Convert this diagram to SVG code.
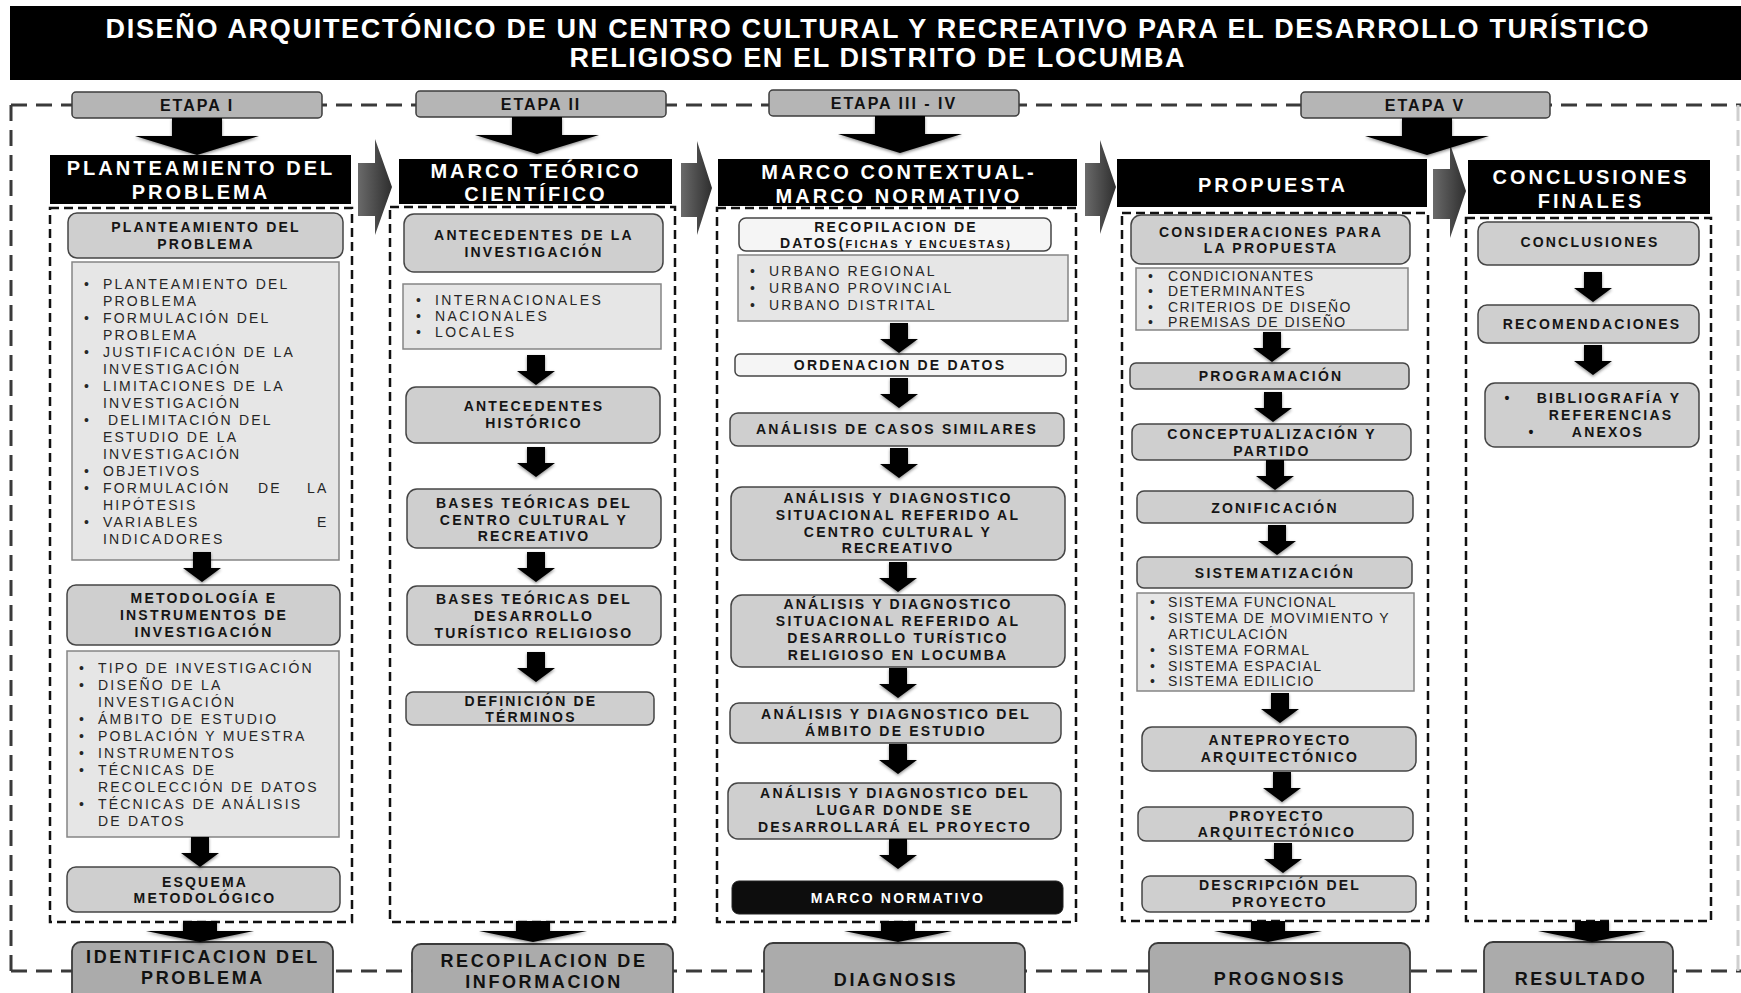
<svg xmlns="http://www.w3.org/2000/svg" xmlns:xlink="http://www.w3.org/1999/xlink" width="1741" height="993" viewBox="0 0 1741 993">
<style>
text{font-family:"Liberation Sans",Arial,sans-serif}
.box{fill:#cfcfcf;stroke:#454545;stroke-width:1.5}
.wbox{fill:#f5f5f5;stroke:#454545;stroke-width:1.5}
.list{fill:#e6e6e6;stroke:#858585;stroke-width:1.5}
.bbox{fill:#ababab;stroke:#3a3a3a;stroke-width:1.8}
.ebox{fill:#b5b5b5;stroke:#3d3d3d;stroke-width:1.5}
.colf{fill:none;stroke:#111;stroke-width:2.5;stroke-dasharray:9 5}
.frame{fill:none;stroke:#3a3a3a;stroke-width:3;stroke-dasharray:16 9}
.t{font-weight:bold;font-size:14px;letter-spacing:2.2px;text-anchor:middle;fill:#151515}
.li{font-size:14px;letter-spacing:2.2px;fill:#262626}
.ht{font-weight:bold;font-size:20px;letter-spacing:3px;text-anchor:middle;fill:#fff}
.bt{font-weight:bold;font-size:18px;letter-spacing:2.6px;text-anchor:middle;fill:#111}
.et{font-weight:bold;font-size:16px;letter-spacing:2px;text-anchor:middle;fill:#111}
.tt{font-weight:bold;font-size:27px;text-anchor:middle;fill:#fff}
.arr{fill:#000;filter:url(#sh)}
.harr{fill:url(#hg)}
</style>
<defs>
<filter id="sh" x="-40%" y="-40%" width="180%" height="180%">
<feDropShadow dx="0" dy="1.5" stdDeviation="1.5" flood-color="#000" flood-opacity="0.45"/>
</filter>
<linearGradient id="hg" x1="0" y1="0" x2="1" y2="0">
<stop offset="0" stop-color="#6a6a6a"/>
<stop offset="1" stop-color="#2e2e2e"/>
</linearGradient>
<path id="sa" d="M-9,0H9V16H19L0,30L-19,16H-9Z"/>
<path id="ba" d="M-25,0H25V18H62L0,37L-62,18H-25Z"/>
<path id="fa" d="M-17,0H17V10H54L0,21L-54,10H-17Z"/>
</defs>
<rect width="1741" height="993" fill="#fff"/>

<g id="title">
<rect x="10" y="6" width="1731" height="74" fill="#000"/>
<text class="tt" x="877" y="38" textLength="1543">DISEÑO ARQUITECTÓNICO DE UN CENTRO CULTURAL Y RECREATIVO PARA EL DESARROLLO TURÍSTICO</text>
<text class="tt" x="877" y="67" textLength="615">RELIGIOSO EN EL DISTRITO DE LOCUMBA</text>
</g>

<g id="frame">
<path class="frame" d="M11,105H1741M11,971H1741M11,105V971"/>
<path d="M1738,105V971" fill="none" stroke="#cfcfcf" stroke-width="3" stroke-dasharray="16 9"/>
</g>

<g id="etapa1"><rect class="ebox" x="72" y="92" width="250" height="26" rx="4"/><text class="et" x="197" y="111">ETAPA I</text></g>
<g id="etapa2"><rect class="ebox" x="416" y="91" width="250" height="26" rx="4"/><text class="et" x="541" y="110">ETAPA II</text></g>
<g id="etapa3"><rect class="ebox" x="769" y="90" width="250" height="26" rx="4"/><text class="et" x="894" y="109">ETAPA III - IV</text></g>
<g id="etapa5"><rect class="ebox" x="1301" y="92" width="249" height="26" rx="4"/><text class="et" x="1425" y="111">ETAPA V</text></g>

<g id="hdr1"><rect x="50" y="155" width="301" height="49" fill="#000"/><text class="ht" x="201" y="175">PLANTEAMIENTO DEL</text><text class="ht" x="201" y="199">PROBLEMA</text></g>
<g id="hdr2"><rect x="399" y="159" width="273" height="45" fill="#000"/><text class="ht" x="536" y="178">MARCO TEÓRICO</text><text class="ht" x="536" y="201">CIENTÍFICO</text></g>
<g id="hdr3"><rect x="718" y="159" width="359" height="47" fill="#000"/><text class="ht" x="899" y="179">MARCO CONTEXTUAL-</text><text class="ht" x="899" y="203">MARCO NORMATIVO</text></g>
<g id="hdr4"><rect x="1117" y="159" width="310" height="48" fill="#000"/><text class="ht" x="1273" y="192">PROPUESTA</text></g>
<g id="hdr5"><rect x="1468" y="160" width="242" height="54" fill="#000"/><text class="ht" x="1591" y="184">CONCLUSIONES</text><text class="ht" x="1591" y="208">FINALES</text></g>

<g id="colframes">
<rect class="colf" x="50" y="208" width="302" height="714"/>
<rect class="colf" x="390" y="207" width="285" height="715"/>
<rect class="colf" x="717" y="208" width="359" height="714"/>
<rect class="colf" x="1122" y="213" width="306" height="708"/>
<rect class="colf" x="1466" y="218" width="245" height="703"/>
</g>

<!-- Column 1 -->
<g id="c1b1"><rect class="box" x="68" y="213" width="275" height="45" rx="9"/><text class="t" x="206" y="232">PLANTEAMIENTO DEL</text><text class="t" x="206" y="249">PROBLEMA</text></g>
<g id="c1l1"><rect class="list" x="72" y="262" width="267" height="298"/>
<g class="li">
<text x="84" y="289">•</text><text x="103" y="289">PLANTEAMIENTO DEL</text>
<text x="103" y="306">PROBLEMA</text>
<text x="84" y="323">•</text><text x="103" y="323">FORMULACIÓN DEL</text>
<text x="103" y="340">PROBLEMA</text>
<text x="84" y="357">•</text><text x="103" y="357">JUSTIFICACIÓN DE LA</text>
<text x="103" y="374">INVESTIGACIÓN</text>
<text x="84" y="391">•</text><text x="103" y="391">LIMITACIONES DE LA</text>
<text x="103" y="408">INVESTIGACIÓN</text>
<text x="84" y="425">•</text><text x="108" y="425">DELIMITACIÓN DEL</text>
<text x="103" y="442">ESTUDIO DE LA</text>
<text x="103" y="459">INVESTIGACIÓN</text>
<text x="84" y="476">•</text><text x="103" y="476">OBJETIVOS</text>
<text x="84" y="493">•</text><text x="103" y="493">FORMULACIÓN</text><text x="258" y="493">DE</text><text x="307" y="493">LA</text>
<text x="103" y="510">HIPÓTESIS</text>
<text x="84" y="527">•</text><text x="103" y="527">VARIABLES</text><text x="317" y="527">E</text>
<text x="103" y="544">INDICADORES</text>
</g></g>
<g id="c1b2"><rect class="box" x="67" y="585" width="273" height="60" rx="9"/><text class="t" x="204" y="603">METODOLOGÍA E</text><text class="t" x="204" y="620">INSTRUMENTOS DE</text><text class="t" x="204" y="637">INVESTIGACIÓN</text></g>
<g id="c1l2"><rect class="list" x="67" y="651" width="272" height="186"/>
<g class="li">
<text x="79" y="673">•</text><text x="98" y="673">TIPO DE INVESTIGACIÓN</text>
<text x="79" y="690">•</text><text x="98" y="690">DISEÑO DE LA</text>
<text x="98" y="707">INVESTIGACIÓN</text>
<text x="79" y="724">•</text><text x="98" y="724">ÁMBITO DE ESTUDIO</text>
<text x="79" y="741">•</text><text x="98" y="741">POBLACIÓN Y MUESTRA</text>
<text x="79" y="758">•</text><text x="98" y="758">INSTRUMENTOS</text>
<text x="79" y="775">•</text><text x="98" y="775">TÉCNICAS DE</text>
<text x="98" y="792">RECOLECCIÓN DE DATOS</text>
<text x="79" y="809">•</text><text x="98" y="809">TÉCNICAS DE ANÁLISIS</text>
<text x="98" y="826">DE DATOS</text>
</g></g>
<g id="c1b3"><rect class="box" x="67" y="867" width="273" height="45" rx="9"/><text class="t" x="205" y="887">ESQUEMA</text><text class="t" x="205" y="903">METODOLÓGICO</text></g>

<!-- Column 2 -->
<g id="c2b1"><rect class="box" x="404" y="214" width="259" height="58" rx="10"/><text class="t" x="534" y="240">ANTECEDENTES DE LA</text><text class="t" x="534" y="257">INVESTIGACIÓN</text></g>
<g id="c2l1"><rect class="list" x="403" y="284" width="258" height="65"/>
<g class="li" style="letter-spacing:2.4px">
<text x="416" y="305">•</text><text x="435" y="305">INTERNACIONALES</text>
<text x="416" y="321">•</text><text x="435" y="321">NACIONALES</text>
<text x="416" y="337">•</text><text x="435" y="337">LOCALES</text>
</g></g>
<g id="c2b2"><rect class="box" x="406" y="387" width="254" height="56" rx="10"/><text class="t" x="534" y="411">ANTECEDENTES</text><text class="t" x="534" y="428">HISTÓRICO</text></g>
<g id="c2b3"><rect class="box" x="407" y="489" width="254" height="59" rx="10"/><text class="t" x="534" y="508">BASES TEÓRICAS DEL</text><text class="t" x="534" y="525">CENTRO CULTURAL Y</text><text class="t" x="534" y="541">RECREATIVO</text></g>
<g id="c2b4"><rect class="box" x="407" y="586" width="254" height="59" rx="10"/><text class="t" x="534" y="604">BASES TEÓRICAS DEL</text><text class="t" x="534" y="621">DESARROLLO</text><text class="t" x="534" y="638">TURÍSTICO RELIGIOSO</text></g>
<g id="c2b5"><rect class="box" x="406" y="692" width="248" height="33" rx="7"/><text class="t" x="531" y="706">DEFINICIÓN DE</text><text class="t" x="531" y="722">TÉRMINOS</text></g>

<!-- Column 3 -->
<g id="c3b1"><rect class="wbox" x="739" y="218" width="312" height="33" rx="7"/><text class="t" x="896" y="232">RECOPILACION DE</text><text class="t" x="896" y="248">DATOS(<tspan style="font-size:11px">FICHAS Y ENCUESTAS)</tspan></text></g>
<g id="c3l1"><rect class="list" x="738" y="255" width="330" height="66"/>
<g class="li" style="letter-spacing:2.1px">
<text x="750" y="276">•</text><text x="769" y="276">URBANO REGIONAL</text>
<text x="750" y="293">•</text><text x="769" y="293">URBANO PROVINCIAL</text>
<text x="750" y="310">•</text><text x="769" y="310">URBANO DISTRITAL</text>
</g></g>
<g id="c3b2"><rect class="wbox" x="735" y="354" width="331" height="22" rx="5"/><text class="t" x="900" y="370">ORDENACION DE DATOS</text></g>
<g id="c3b3"><rect class="box" x="730" y="413" width="334" height="33" rx="8"/><text class="t" x="897" y="434">ANÁLISIS DE CASOS SIMILARES</text></g>
<g id="c3b4"><rect class="box" x="731" y="487" width="334" height="73" rx="11"/><text class="t" x="898" y="503">ANÁLISIS Y DIAGNOSTICO</text><text class="t" x="898" y="520">SITUACIONAL REFERIDO AL</text><text class="t" x="898" y="537">CENTRO CULTURAL Y</text><text class="t" x="898" y="553">RECREATIVO</text></g>
<g id="c3b5"><rect class="box" x="731" y="595" width="334" height="72" rx="11"/><text class="t" x="898" y="609">ANÁLISIS Y DIAGNOSTICO</text><text class="t" x="898" y="626">SITUACIONAL REFERIDO AL</text><text class="t" x="898" y="643">DESARROLLO TURÍSTICO</text><text class="t" x="898" y="660">RELIGIOSO EN LOCUMBA</text></g>
<g id="c3b6"><rect class="box" x="730" y="703" width="331" height="40" rx="9"/><text class="t" x="896" y="719">ANÁLISIS Y DIAGNOSTICO DEL</text><text class="t" x="896" y="736">ÁMBITO DE ESTUDIO</text></g>
<g id="c3b7"><rect class="box" x="728" y="783" width="333" height="56" rx="10"/><text class="t" x="895" y="798">ANÁLISIS Y DIAGNOSTICO DEL</text><text class="t" x="895" y="815">LUGAR DONDE SE</text><text class="t" x="895" y="832">DESARROLLARÁ EL PROYECTO</text></g>
<g id="c3b8"><rect x="732" y="881" width="331" height="33" rx="7" fill="#0d0d0d" stroke="#222" stroke-width="1"/><text class="t" x="898" y="903" style="fill:#fff">MARCO NORMATIVO</text></g>

<!-- Column 4 -->
<g id="c4b1"><rect class="box" x="1131" y="215" width="279" height="49" rx="10"/><text class="t" x="1271" y="237">CONSIDERACIONES PARA</text><text class="t" x="1271" y="253">LA PROPUESTA</text></g>
<g id="c4l1"><rect class="list" x="1136" y="268" width="272" height="62"/>
<g class="li" style="letter-spacing:1.4px">
<text x="1148" y="281">•</text><text x="1168" y="281">CONDICIONANTES</text>
<text x="1148" y="296">•</text><text x="1168" y="296">DETERMINANTES</text>
<text x="1148" y="312">•</text><text x="1168" y="312">CRITERIOS DE DISEÑO</text>
<text x="1148" y="327">•</text><text x="1168" y="327">PREMISAS DE DISEÑO</text>
</g></g>
<g id="c4b2"><rect class="box" x="1130" y="363" width="279" height="26" rx="6"/><text class="t" x="1271" y="381">PROGRAMACIÓN</text></g>
<g id="c4b3"><rect class="box" x="1132" y="424" width="279" height="36" rx="8"/><text class="t" x="1272" y="439">CONCEPTUALIZACIÓN Y</text><text class="t" x="1272" y="456">PARTIDO</text></g>
<g id="c4b4"><rect class="box" x="1137" y="491" width="276" height="32" rx="7"/><text class="t" x="1275" y="513">ZONIFICACIÓN</text></g>
<g id="c4b5"><rect class="box" x="1137" y="557" width="275" height="31" rx="7"/><text class="t" x="1275" y="578">SISTEMATIZACIÓN</text></g>
<g id="c4l2"><rect class="list" x="1137" y="593" width="277" height="98"/>
<g class="li" style="letter-spacing:1.4px">
<text x="1150" y="607">•</text><text x="1168" y="607">SISTEMA FUNCIONAL</text>
<text x="1150" y="623">•</text><text x="1168" y="623" textLength="222">SISTEMA DE MOVIMIENTO Y</text>
<text x="1168" y="639">ARTICULACIÓN</text>
<text x="1150" y="655">•</text><text x="1168" y="655">SISTEMA FORMAL</text>
<text x="1150" y="671">•</text><text x="1168" y="671">SISTEMA ESPACIAL</text>
<text x="1150" y="686">•</text><text x="1168" y="686">SISTEMA EDILICIO</text>
</g></g>
<g id="c4b6"><rect class="box" x="1142" y="727" width="274" height="44" rx="10"/><text class="t" x="1280" y="745">ANTEPROYECTO</text><text class="t" x="1280" y="762">ARQUITECTÓNICO</text></g>
<g id="c4b7"><rect class="box" x="1138" y="807" width="275" height="34" rx="8"/><text class="t" x="1277" y="821">PROYECTO</text><text class="t" x="1277" y="837">ARQUITECTÓNICO</text></g>
<g id="c4b8"><rect class="box" x="1142" y="876" width="274" height="36" rx="8"/><text class="t" x="1280" y="890">DESCRIPCIÓN DEL</text><text class="t" x="1280" y="907">PROYECTO</text></g>

<!-- Column 5 -->
<g id="c5b1"><rect class="box" x="1478" y="222" width="221" height="43" rx="9"/><text class="t" x="1590" y="247">CONCLUSIONES</text></g>
<g id="c5b2"><rect class="box" x="1478" y="305" width="221" height="38" rx="9"/><text class="t" x="1592" y="329">RECOMENDACIONES</text></g>
<g id="c5b3"><rect class="box" x="1485" y="383" width="214" height="64" rx="10"/>
<text class="t" x="1508" y="403">•</text><text class="t" x="1609" y="403">BIBLIOGRAFÍA Y</text>
<text class="t" x="1611" y="420">REFERENCIAS</text>
<text class="t" x="1532" y="437">•</text><text class="t" x="1608" y="437">ANEXOS</text>
</g>

<!-- Bottom boxes -->
<g id="res1"><rect class="bbox" x="72" y="942" width="261" height="65" rx="9"/><text class="bt" x="203" y="963">IDENTIFICACION DEL</text><text class="bt" x="203" y="984">PROBLEMA</text></g>
<g id="res2"><rect class="bbox" x="412" y="944" width="261" height="65" rx="9"/><text class="bt" x="544" y="967">RECOPILACION DE</text><text class="bt" x="544" y="988">INFORMACION</text></g>
<g id="res3"><rect class="bbox" x="764" y="943" width="261" height="65" rx="9"/><text class="bt" x="896" y="986">DIAGNOSIS</text></g>
<g id="res4"><rect class="bbox" x="1149" y="943" width="261" height="65" rx="9"/><text class="bt" x="1280" y="985">PROGNOSIS</text></g>
<g id="res5"><rect class="bbox" x="1484" y="942" width="189" height="65" rx="9"/><text class="bt" x="1581" y="985">RESULTADO</text></g>

<g id="connectors">
<path class="harr" d="M358,163H375V139L392,187L375,235V216H358Z"/>
<path class="harr" d="M681,163H697V141L712,188L697,235V217H681Z"/>
<path class="harr" d="M1085,163H1100V140L1116,187L1100,234V216H1085Z"/>
<path class="harr" d="M1433,169H1450V144L1466,191L1450,238V219H1433Z"/>
<use class="arr" href="#ba" x="197" y="118"/>
<use class="arr" href="#ba" x="537" y="117"/>
<use class="arr" href="#ba" x="900" y="116"/>
<use class="arr" href="#ba" x="1427" y="118"/>
<use class="arr" href="#sa" x="202" y="552"/>
<use class="arr" href="#sa" x="200" y="837"/>
<use class="arr" href="#sa" x="536" y="355"/>
<use class="arr" href="#sa" x="536" y="447"/>
<use class="arr" href="#sa" x="536" y="552"/>
<use class="arr" href="#sa" x="536" y="652"/>
<use class="arr" href="#sa" x="899" y="323"/>
<use class="arr" href="#sa" x="899" y="378"/>
<use class="arr" href="#sa" x="899" y="448"/>
<use class="arr" href="#sa" x="898" y="562"/>
<use class="arr" href="#sa" x="898" y="668"/>
<use class="arr" href="#sa" x="898" y="744"/>
<use class="arr" href="#sa" x="898" y="839"/>
<use class="arr" href="#sa" x="1272" y="332"/>
<use class="arr" href="#sa" x="1273" y="392"/>
<use class="arr" href="#sa" x="1275" y="460"/>
<use class="arr" href="#sa" x="1277" y="525"/>
<use class="arr" href="#sa" x="1280" y="693"/>
<use class="arr" href="#sa" x="1282" y="772"/>
<use class="arr" href="#sa" x="1283" y="843"/>
<use class="arr" href="#sa" x="1593" y="272"/>
<use class="arr" href="#sa" x="1593" y="345"/>
<use class="arr" href="#fa" x="200" y="921"/>
<use class="arr" href="#fa" x="533" y="921"/>
<use class="arr" href="#fa" x="898" y="921"/>
<use class="arr" href="#fa" x="1268" y="921"/>
<use class="arr" href="#fa" x="1592" y="921"/>
</g>
</svg>
